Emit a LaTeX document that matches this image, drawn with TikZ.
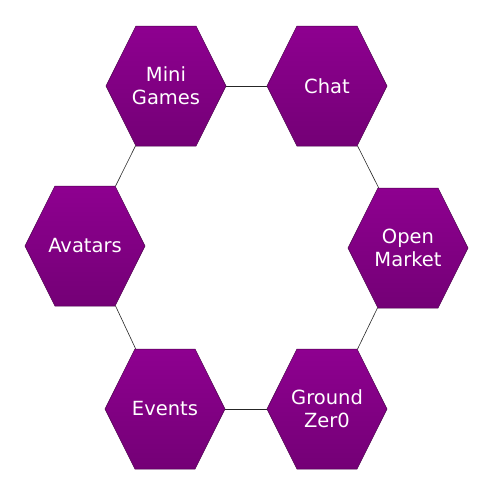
\documentclass[tikz,border=0pt]{standalone}
\usepackage{fontspec}
\setsansfont{DejaVu Sans}
\usetikzlibrary{shapes.symbols}
\definecolor{hexTop}{HTML}{8E0090}
\definecolor{hexBot}{HTML}{740076}
\definecolor{hexEdge}{HTML}{4A004B}
\begin{document}
\begin{tikzpicture}[
    x=1pt,y=-1pt,
    hexa/.style={signal,signal to=west and east,signal pointer angle=127,minimum width=120pt,minimum height=120pt,inner xsep=-14pt,inner ysep=0pt,top color=hexTop,bottom color=hexBot,draw=hexEdge,line width=0.5pt,text=white,align=center,font=\sffamily\fontsize{19.5}{23}\selectfont},
    link/.style={line width=0.6pt,draw=black!85}
]
\useasboundingbox (0,0) rectangle (490,496);
\node[hexa] (games) at (166,86) {Mini\\Games};
\node[hexa] (chat) at (327,86) {Chat};
\node[hexa] (market) at (408,248) {Open\\Market};
\node[hexa] (ground) at (327,409) {Ground\\Zer0};
\node[hexa] (events) at (165,409) {Events};
\node[hexa] (avatars) at (85,246) {Avatars};

\draw[link] (games.east) -- (chat.west);
\draw[link] (chat.-63.43) -- (market.116.57);
\draw[link] (market.243.43) -- (ground.63.43);
\draw[link] (ground.west) -- (events.east);
\draw[link] (events.116.57) -- (avatars.-63.43);
\draw[link] (avatars.63.43) -- (games.243.43);
\end{tikzpicture}
\end{document}
